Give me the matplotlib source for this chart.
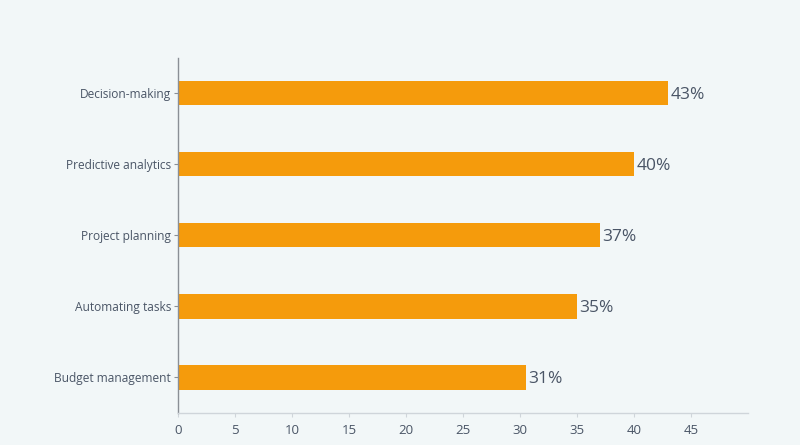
import matplotlib.pyplot as plt

categories = ["Budget management", "Automating tasks", "Project planning",
              "Predictive analytics", "Decision-making"]
values = [30.5, 35, 37, 40, 43]
value_labels = ["31%", "35%", "37%", "40%", "43%"]
xticks = [0, 5, 10, 15, 20, 25, 30, 35, 40, 45]

bg = "#f2f7f8"
bar_color = "#f59b0c"
text_color = "#4a5566"

plt.rcParams['font.family'] = ['Open Sans', 'DejaVu Sans']

fig = plt.figure(figsize=(8, 4.45), dpi=100, facecolor=bg)
ax = fig.add_axes([0.2225, 0.072, 0.7125, 0.798])
ax.set_facecolor(bg)

ypos = list(range(len(categories)))
ax.barh(ypos, values, height=0.34, color=bar_color)

for y, v, lab in zip(ypos, values, value_labels):
    ax.text(v + 0.2, y, lab, va="center_baseline", ha="left", fontsize=12.5, color=text_color)

ax.set_xlim(0, 50)
ax.set_ylim(-0.5, 4.5)
ax.set_yticks(ypos)
ax.set_yticklabels(categories, fontsize=8.6, color=text_color)
ax.set_xticks(xticks)
ax.set_xticklabels([str(t) for t in xticks], fontsize=9.5, color=text_color)

for s in ["top", "right"]:
    ax.spines[s].set_visible(False)
ax.spines["left"].set_color("#8a8f96")
ax.spines["left"].set_linewidth(1)
ax.spines["bottom"].set_color("#cfd5da")
ax.spines["bottom"].set_linewidth(1)
ax.tick_params(axis="y", length=3, color="#8a8f96", pad=2)
ax.tick_params(axis="x", length=3, color="#cfd5da", pad=5)

fig.savefig("out.png", dpi=100, facecolor=bg)
